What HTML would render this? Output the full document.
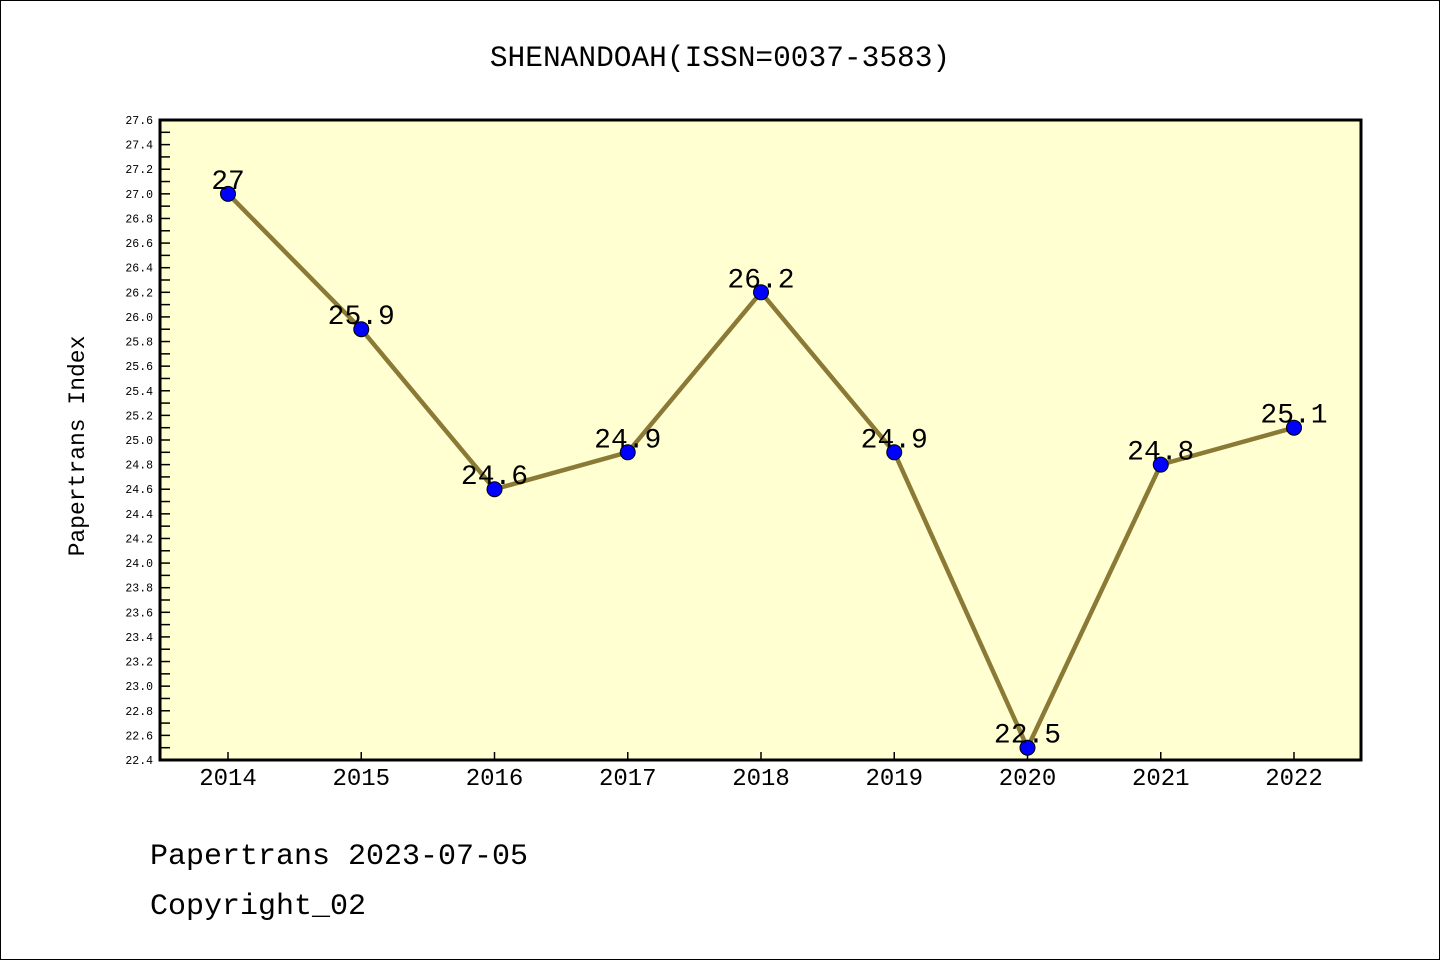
<!DOCTYPE html>
<html><head><meta charset="utf-8"><style>
body{margin:0;background:#fff}
svg text{font-family:"Liberation Mono","Noto Sans CJK SC",monospace}
</style></head><body>
<svg id="c" width="1440" height="960" xmlns="http://www.w3.org/2000/svg">
<rect x="0.5" y="0.5" width="1439" height="959" fill="#fff" stroke="#000"/>
<text x="720" y="66" text-anchor="middle" font-size="29.5">SHENANDOAH(ISSN=0037-3583)</text>
<rect x="160" y="120" width="1201" height="640" fill="#ffffd2"/>
<g id="ticks"></g>
<polyline id="line" fill="none" stroke="#8b7a35" stroke-width="4.5"/>
<g id="marks"></g>
<rect x="160" y="120" width="1201" height="640" fill="none" stroke="#000" stroke-width="3"/>
<text transform="translate(84,446) rotate(-90)" text-anchor="middle" font-size="23">Papertrans Index</text>
<text x="150" y="864" font-size="30">Papertrans 2023-07-05</text>
<text x="150" y="914" font-size="30">Copyright_02</text>
</svg>
<script>
const years=["2014","2015","2016","2017","2018","2019","2020","2021","2022"];
const values=[27,25.9,24.6,24.9,26.2,24.9,22.5,24.8,25.1];
const labels=["27","25.9","24.6","24.9","26.2","24.9","22.5","24.8","25.1"];
const yMin=22.4,yMax=27.6;
const NS="http://www.w3.org/2000/svg";
const X=i=>228+i*133.25;
const Y=v=>760-(v-yMin)/(yMax-yMin)*640;
const svg=document.getElementById('c');
const tg=document.getElementById('ticks');
function mk(t,a,p){const e=document.createElementNS(NS,t);for(const k in a)e.setAttribute(k,a[k]);(p||tg).appendChild(e);return e;}
for(let k=0;k<=52;k++){const v=yMin+k*0.1,y=Y(v);
 const t=mk('line',{x1:160,x2:170,y1:y,y2:y,stroke:'#000','stroke-width':1.5});
 
 
 if(k%2==0){const l=mk('text',{x:153,y:y+4,'text-anchor':'end','font-size':11.5,'font-family':'Liberation Sans, sans-serif'});l.textContent=v.toFixed(1);
 
 }}
years.forEach((yr,i)=>{const t=mk('line',{x1:X(i),x2:X(i),y1:760,y2:752,stroke:'#000','stroke-width':1.5});
 
 
 const l=mk('text',{x:X(i),y:785,'text-anchor':'middle','font-size':24});l.textContent=yr;
 
 });
document.getElementById('line').setAttribute('points',values.map((v,i)=>X(i)+','+Y(v)).join(' '));
const mg=document.getElementById('marks');
values.forEach((v,i)=>{const c=mk('circle',{cx:X(i),cy:Y(v),r:7.5,fill:'#0000ff',stroke:'#000','stroke-width':1},mg);
 
 
 const l=mk('text',{x:X(i),y:Y(v)-5,'text-anchor':'middle','font-size':28},mg);l.textContent=labels[i];
 
 });
</script>
</body></html>
